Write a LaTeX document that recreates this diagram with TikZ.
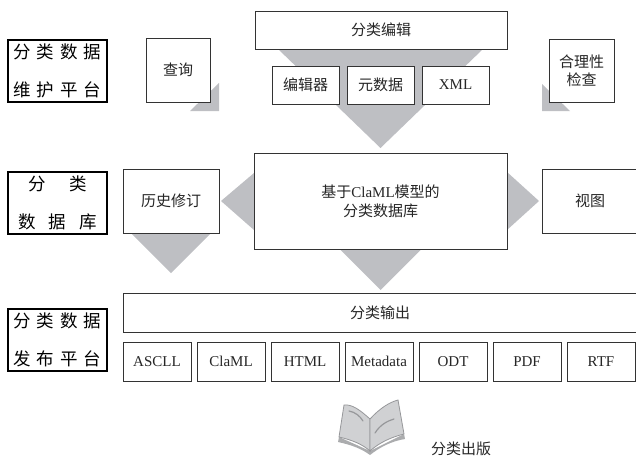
\documentclass[tikz,border=0pt]{standalone}
\usepackage{fontspec}
\setmainfont{Liberation Serif}
\newfontfamily\cjk{Noto Sans CJK SC}
\usepackage{tikz}
\usetikzlibrary{positioning}
\usetikzlibrary{backgrounds}
\definecolor{wedgegray}{RGB}{190,191,195}
\definecolor{bookgray}{RGB}{208,209,211}
\definecolor{bookline}{RGB}{150,151,154}
\newcommand\boxfont{\fontsize{15pt}{18pt}\selectfont}
\newcommand\gap{\hspace{6pt}}
\tikzset{
    platform/.style={
        rectangle, draw=black, line width=2pt,
        minimum width=99pt, minimum height=62pt,
        inner sep=0pt, align=center,
        font=\cjk\fontsize{17.5pt}{38pt}\selectfont,
    },
    module/.style={
        rectangle, draw=black!80, line width=0.9pt,
        fill=white, inner sep=0pt, outer sep=0pt, align=center,
        text=black!85, font=\cjk\boxfont,
    },
    format/.style={
        module, font=\boxfont,
        minimum width=68pt, minimum height=39pt,
    },
    tool/.style={
        module, minimum width=67pt, minimum height=38pt,
    },
    wedge/.style={fill=wedgegray},
}

\begin{document}
\begin{tikzpicture}[x=1pt, y=-1pt]
    \useasboundingbox (0,0) rectangle (636,463);

    % platform labels
    \node (maintain) at(57.5,71) [platform]
        {分\gap 类\gap 数\gap 据\\维\gap 护\gap 平\gap 台};
    \node (database) at(57.5,202.5) [platform]
        {分\hspace{24pt}类\\数\hspace{13pt}据\hspace{13pt}库};
    \node (publish) at(57.5,340) [platform]
        {分\gap 类\gap 数\gap 据\\发\gap 布\gap 平\gap 台};

    % maintenance layer
    \node (edit) at(381,30) [module, minimum width=252pt, minimum height=38pt] {分类编辑};
    \node (editor) at(305.5,85) [tool] {编辑器};
    \node (meta) [tool, right=8pt of editor] {元数据};
    \node (xml) [tool, right=8pt of meta, font=\boxfont] {XML};
    \node (query) at(178,70) [module, minimum width=64pt, minimum height=64pt] {查询};
    \node (check) at(581.5,70.5) [module, minimum width=65pt, minimum height=63pt] {合理性\\检查};

    % database layer
    \node (db) at(380.5,201) [module, minimum width=253pt, minimum height=96pt,
        font=\cjk\fontsize{15pt}{19pt}\selectfont]
        {基于{\rmfamily ClaML}模型的\\分类数据库};
    \node (history) at(171,201) [module, minimum width=96pt, minimum height=64pt] {历史修订};
    \node (view) at(590,201) [module, minimum width=96pt, minimum height=64pt] {视图};

    % publishing layer
    \node (output) at(380,312.5) [module, minimum width=514pt, minimum height=39pt] {分类输出};
    \node (ascll) at(157,361.5) [format] {ASCLL};
    \node (claml) [format, right=6pt of ascll] {ClaML};
    \node (html) [format, right=6pt of claml] {HTML};
    \node (metadata) [format, right=6pt of html] {Metadata};
    \node (odt) [format, right=6pt of metadata] {ODT};
    \node (pdf) [format, right=6pt of odt] {PDF};
    \node (rtf) [format, right=6pt of pdf] {RTF};

    \node (print) at(461,449) [text=black!85, font=\cjk\boxfont] {分类出版};

    % wedges
    \begin{scope}[on background layer]
        \fill[wedge] ([xshift=23pt]edit.south west) -- ([xshift=-24pt]edit.south east)
            -- ([yshift=5pt]db.north) -- cycle;
        \fill[wedge] ([shift={(9pt,19pt)}]query.south east) -- ([shift={(9pt,-9pt)}]query.south east)
            -- ([shift={(-20pt,-9pt)}]query.south east) -- cycle;
        \fill[wedge] ([shift={(-7pt,18pt)}]check.south west) -- ([shift={(-7pt,-9pt)}]check.south west)
            -- ([shift={(21pt,-9pt)}]check.south west) -- cycle;
        \fill[wedge] ([yshift=28pt]db.west) -- ([yshift=-29pt]db.west)
            -- ([xshift=2pt]history.east) -- cycle;
        \fill[wedge] ([yshift=29pt]db.east) -- ([yshift=-29pt]db.east)
            -- ([xshift=-3pt]view.west) -- cycle;
        \fill[wedge] ([xshift=-40pt]history.south) -- ([xshift=40pt]history.south)
            -- ([yshift=-40pt]history.south) -- cycle;
        \fill[wedge] ([xshift=-41pt]db.south) -- ([xshift=41pt]db.south)
            -- ([yshift=-41pt]db.south) -- cycle;
    \end{scope}

    % book
    \fill[bookline!80] (339,437) -- (338,442) .. controls (352,445) and (362,449) .. (370,455)
        .. controls (380,447) and (392,441) .. (405,439) -- (404,434) -- (370,451) -- cycle;
    \filldraw[fill=bookgray, draw=bookline, line width=0.8pt]
        (370,419) .. controls (360,410) and (352,404) .. (344,405) -- (339,437)
        .. controls (352,440) and (362,444) .. (370,451) -- cycle;
    \filldraw[fill=bookgray, draw=bookline, line width=0.8pt]
        (370,419) .. controls (380,408) and (390,402) .. (398,400) -- (404,434)
        .. controls (392,437) and (380,442) .. (370,451) -- cycle;
    \draw[bookline, line width=1.2pt, line cap=round]
        (349,411) .. controls (355,412) and (360,416) .. (363,421);
    \draw[bookline, line width=1.2pt, line cap=round]
        (375,433) .. controls (380,425) and (387,421) .. (394,419);
\end{tikzpicture}
\end{document}
